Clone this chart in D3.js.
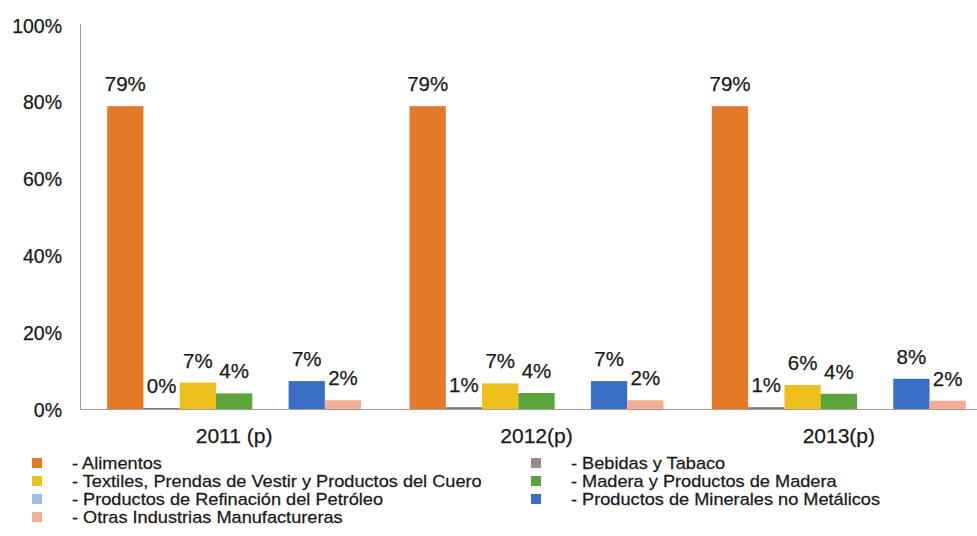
<!DOCTYPE html>
<html>
<head>
<meta charset="utf-8">
<script src="https://cdn.jsdelivr.net/npm/d3@7"></script>
<style>
  html, body { margin: 0; padding: 0; background: #fff; }
  svg { display: block; font-family: "Liberation Sans", Arial, sans-serif; }
  text { stroke: #1a1a1a; stroke-width: 0.25px; }
</style>
</head>
<body>
<svg id="chart" width="977" height="536"></svg>
<script>
const years = ["2011 (p)", "2012(p)", "2013(p)"];
const seriesNames = [
  "- Alimentos",
  "- Bebidas y Tabaco",
  "- Textiles, Prendas de Vestir y Productos del Cuero",
  "- Madera y Productos de Madera",
  "- Productos de Refinación del Petróleo",
  "- Productos de Minerales no Metálicos",
  "- Otras Industrias Manufactureras"
];
const seriesColors = ["#E47A27", "#9C8B8B", "#EEC01C", "#5AA63A", "#9DBFE0", "#3A6FC8", "#F4AE94"];
// values per series, one per year (fractions)
const alimentos   = [0.79, 0.79, 0.79];
const bebidas     = [0.004, 0.006, 0.006];
const textiles    = [0.07, 0.068, 0.064];
const madera      = [0.042, 0.043, 0.041];
const refinacion  = [null, null, null];
const minerales   = [0.074, 0.074, 0.08];
const otras       = [0.024, 0.024, 0.023];
const seriesValues = [alimentos, bebidas, textiles, madera, refinacion, minerales, otras];
const yTicks = [0, 0.2, 0.4, 0.6, 0.8, 1.0];

const svg = d3.select("#chart");
const y = d3.scaleLinear().domain([0, 1]).range([409.5, 25.5]);
const x0 = d3.scaleBand().domain(years).range([83, 990]).paddingInner(0.16).paddingOuter(0.08);
const x1 = d3.scaleBand().domain(d3.range(seriesNames.length)).range([0, x0.bandwidth()]);
const pct = d3.format(".0%");

// y axis line
svg.append("line").attr("x1", 80.5).attr("x2", 80.5).attr("y1", 24).attr("y2", 409.5)
  .attr("stroke", "#A89C9C").attr("stroke-width", 1);

// y tick labels
svg.append("g").selectAll("text").data(yTicks).join("text")
  .attr("x", 62).attr("y", d => y(d)).attr("dy", "0.36em")
  .attr("text-anchor", "end").attr("font-size", 19.5).attr("fill", "#1a1a1a")
  .text(d => pct(d));

// bars
const groups = svg.append("g").selectAll("g").data(years).join("g")
  .attr("transform", d => `translate(${x0(d)},0)`);

groups.each(function(yr, yi) {
  const g = d3.select(this);
  const items = seriesValues.map((vals, si) => ({ si, v: vals[yi] })).filter(d => d.v !== null);
  g.selectAll("rect").data(items).join("rect")
    .attr("x", d => x1(d.si)).attr("width", x1.bandwidth())
    .attr("y", d => y(d.v)).attr("height", d => Math.max(1.5, y(0) - y(d.v)))
    .attr("fill", d => d.si === 1 ? "#8A7474" : seriesColors[d.si]);
  g.selectAll("text").data(items).join("text")
    .attr("x", d => x1(d.si) + x1.bandwidth() / 2)
    .attr("y", d => y(d.v) - 15)
    .attr("text-anchor", "middle").attr("font-size", 20.5).attr("fill", "#1a1a1a")
    .text(d => pct(d.v));
});

// x axis line
svg.append("line").attr("x1", 80).attr("x2", 977).attr("y1", 409.5).attr("y2", 409.5)
  .attr("stroke", "#A89C9C").attr("stroke-width", 1.2);

// category labels
svg.append("g").selectAll("text").data(years).join("text")
  .attr("x", d => x0(d) + x0.bandwidth() / 2).attr("y", 443)
  .attr("text-anchor", "middle").attr("font-size", 21).attr("fill", "#1a1a1a")
  .text(d => d);

// legend
const legendPos = [
  [32, 463], [531, 463],
  [32, 481], [531, 481],
  [32, 499], [531, 499],
  [32, 517]
];
const legend = svg.append("g").selectAll("g").data(seriesNames).join("g")
  .attr("transform", (d, i) => `translate(${legendPos[i][0]},${legendPos[i][1]})`);
legend.append("rect").attr("x", 0).attr("y", -5).attr("width", 10).attr("height", 10)
  .attr("fill", (d, i) => seriesColors[i]);
legend.append("text").attr("transform", "translate(40,0) scale(1.13,1)")
  .attr("x", 0).attr("y", 0).attr("dy", "0.36em")
  .attr("font-size", 16.1).attr("fill", "#1a1a1a").text(d => d);
</script>
</body>
</html>
